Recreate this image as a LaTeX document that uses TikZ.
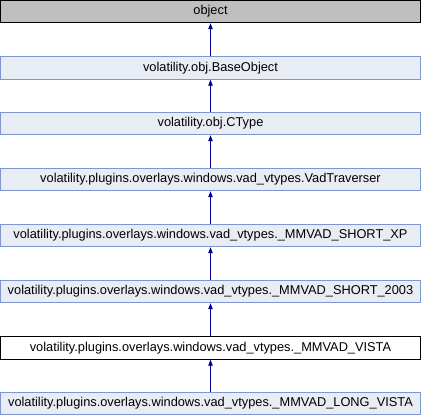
\documentclass[tikz,border=0pt]{standalone}
\usepackage{fontspec}
\setmainfont{Liberation Sans}
\usetikzlibrary{arrows.meta}
\definecolor{clsfill}{HTML}{E8ECF5}
\definecolor{clsedge}{HTML}{7C97CD}
\definecolor{rootfill}{HTML}{BFBFBF}
\definecolor{inh}{HTML}{000090}
\tikzset{
  cls/.style={draw=clsedge, fill=clsfill, line width=0.9pt, minimum width=420pt,
    minimum height=22.5pt, inner sep=0pt, font=\fontsize{12.8}{15}\selectfont},
  rootcls/.style={cls, draw=black, fill=rootfill},
  curcls/.style={cls, draw=black, fill=white},
  inherit/.style={draw=inh, line width=0.9pt, -{Triangle[width=4.5pt,length=6pt]}}
}
\begin{document}
\begin{tikzpicture}[x=1pt,y=1pt]
\useasboundingbox (0,0) rectangle (421,-416);
\node[rootcls] (n0) at (210.5,-11.5) {object};
\node[cls] (n1) at (210.5,-68) {volatility.obj.BaseObject};
\node[cls] (n2) at (210.5,-123.5) {volatility.obj.CType};
\node[cls] (n3) at (210.5,-179.5) {volatility.plugins.overlays.windows.vad\_vtypes.VadTraverser};
\node[cls] (n4) at (210.5,-235.5) {volatility.plugins.overlays.windows.vad\_vtypes.\_MMVAD\_SHORT\_XP};
\node[cls] (n5) at (210.5,-291.5) {volatility.plugins.overlays.windows.vad\_vtypes.\_MMVAD\_SHORT\_2003};
\node[curcls] (n6) at (210.5,-348) {volatility.plugins.overlays.windows.vad\_vtypes.\_MMVAD\_VISTA};
\node[cls] (n7) at (210.5,-403.5) {volatility.plugins.overlays.windows.vad\_vtypes.\_MMVAD\_LONG\_VISTA};
\foreach \a/\b in {n1/n0,n2/n1,n3/n2,n4/n3,n5/n4,n6/n5,n7/n6}
  \draw[inherit] (\a.north) -- (\b.south);
\end{tikzpicture}
\end{document}
